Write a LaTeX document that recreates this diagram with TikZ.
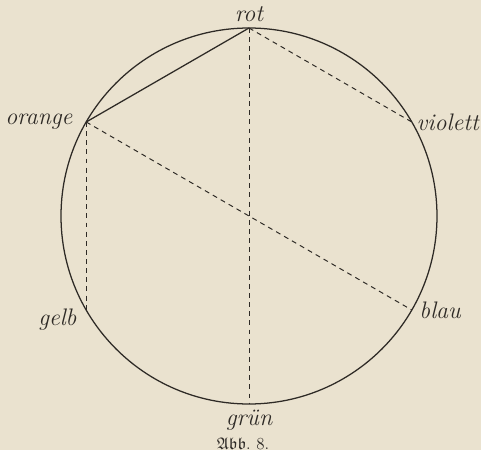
\documentclass[tikz,border=0pt]{standalone}
\usepackage{amssymb}
\usetikzlibrary{positioning}
\definecolor{paper}{HTML}{EAE2CF}
\definecolor{ink}{HTML}{2E2A26}

\begin{document}
\begin{tikzpicture}[
    rim/.style={draw=ink, line width=0.9pt},
    chord/.style={draw=ink, line width=0.9pt},
    dchord/.style={draw=ink, line width=0.7pt, dash pattern=on 3.5pt off 3pt},
    lbl/.style={font=\fontsize{17}{20}\selectfont\itshape, text=ink, inner sep=1pt},
    figcap/.style={font=\fontsize{12}{14}\selectfont, text=ink, inner sep=1pt},
]

% Paper
\fill[paper] (-6.225,-5.85) rectangle (5.8,5.4);

% Circle and its points
\draw[rim] (0,0) circle (4.7);
\coordinate (rot) at (90:4.7);
\coordinate (orange) at (150:4.7);
\coordinate (gelb) at (210:4.7);
\coordinate (gruen) at (270:4.7);
\coordinate (blau) at (330:4.7);
\coordinate (violett) at (30:4.7);

% Chords
\draw[chord] (rot) -- (orange);
\draw[dchord] (rot) -- (violett);
\draw[dchord] (rot) -- (gruen);
\draw[dchord] (orange) -- (gelb);
\draw[dchord] (orange) -- (blau);

% Labels
\node[lbl, above=0.12cm of rot] (rotlbl) {rot};
\node[lbl, left=0.3cm of orange] (orangelbl) {orange};
\node[lbl, right=0.08cm of violett] (violettlbl) {violett};
\node[lbl, left=0.2cm of gelb, yshift=-7pt] (gelblbl) {gelb};
\node[lbl, right=0.15cm of blau] (blaulbl) {blau};
\node[lbl, below=0.12cm of gruen] (gruenlbl) {grün};
\node[figcap, below=0.08cm of gruenlbl, xshift=-0.15cm] (caption) {$\mathfrak{Abb}.$ 8.};

\end{tikzpicture}
\end{document}
